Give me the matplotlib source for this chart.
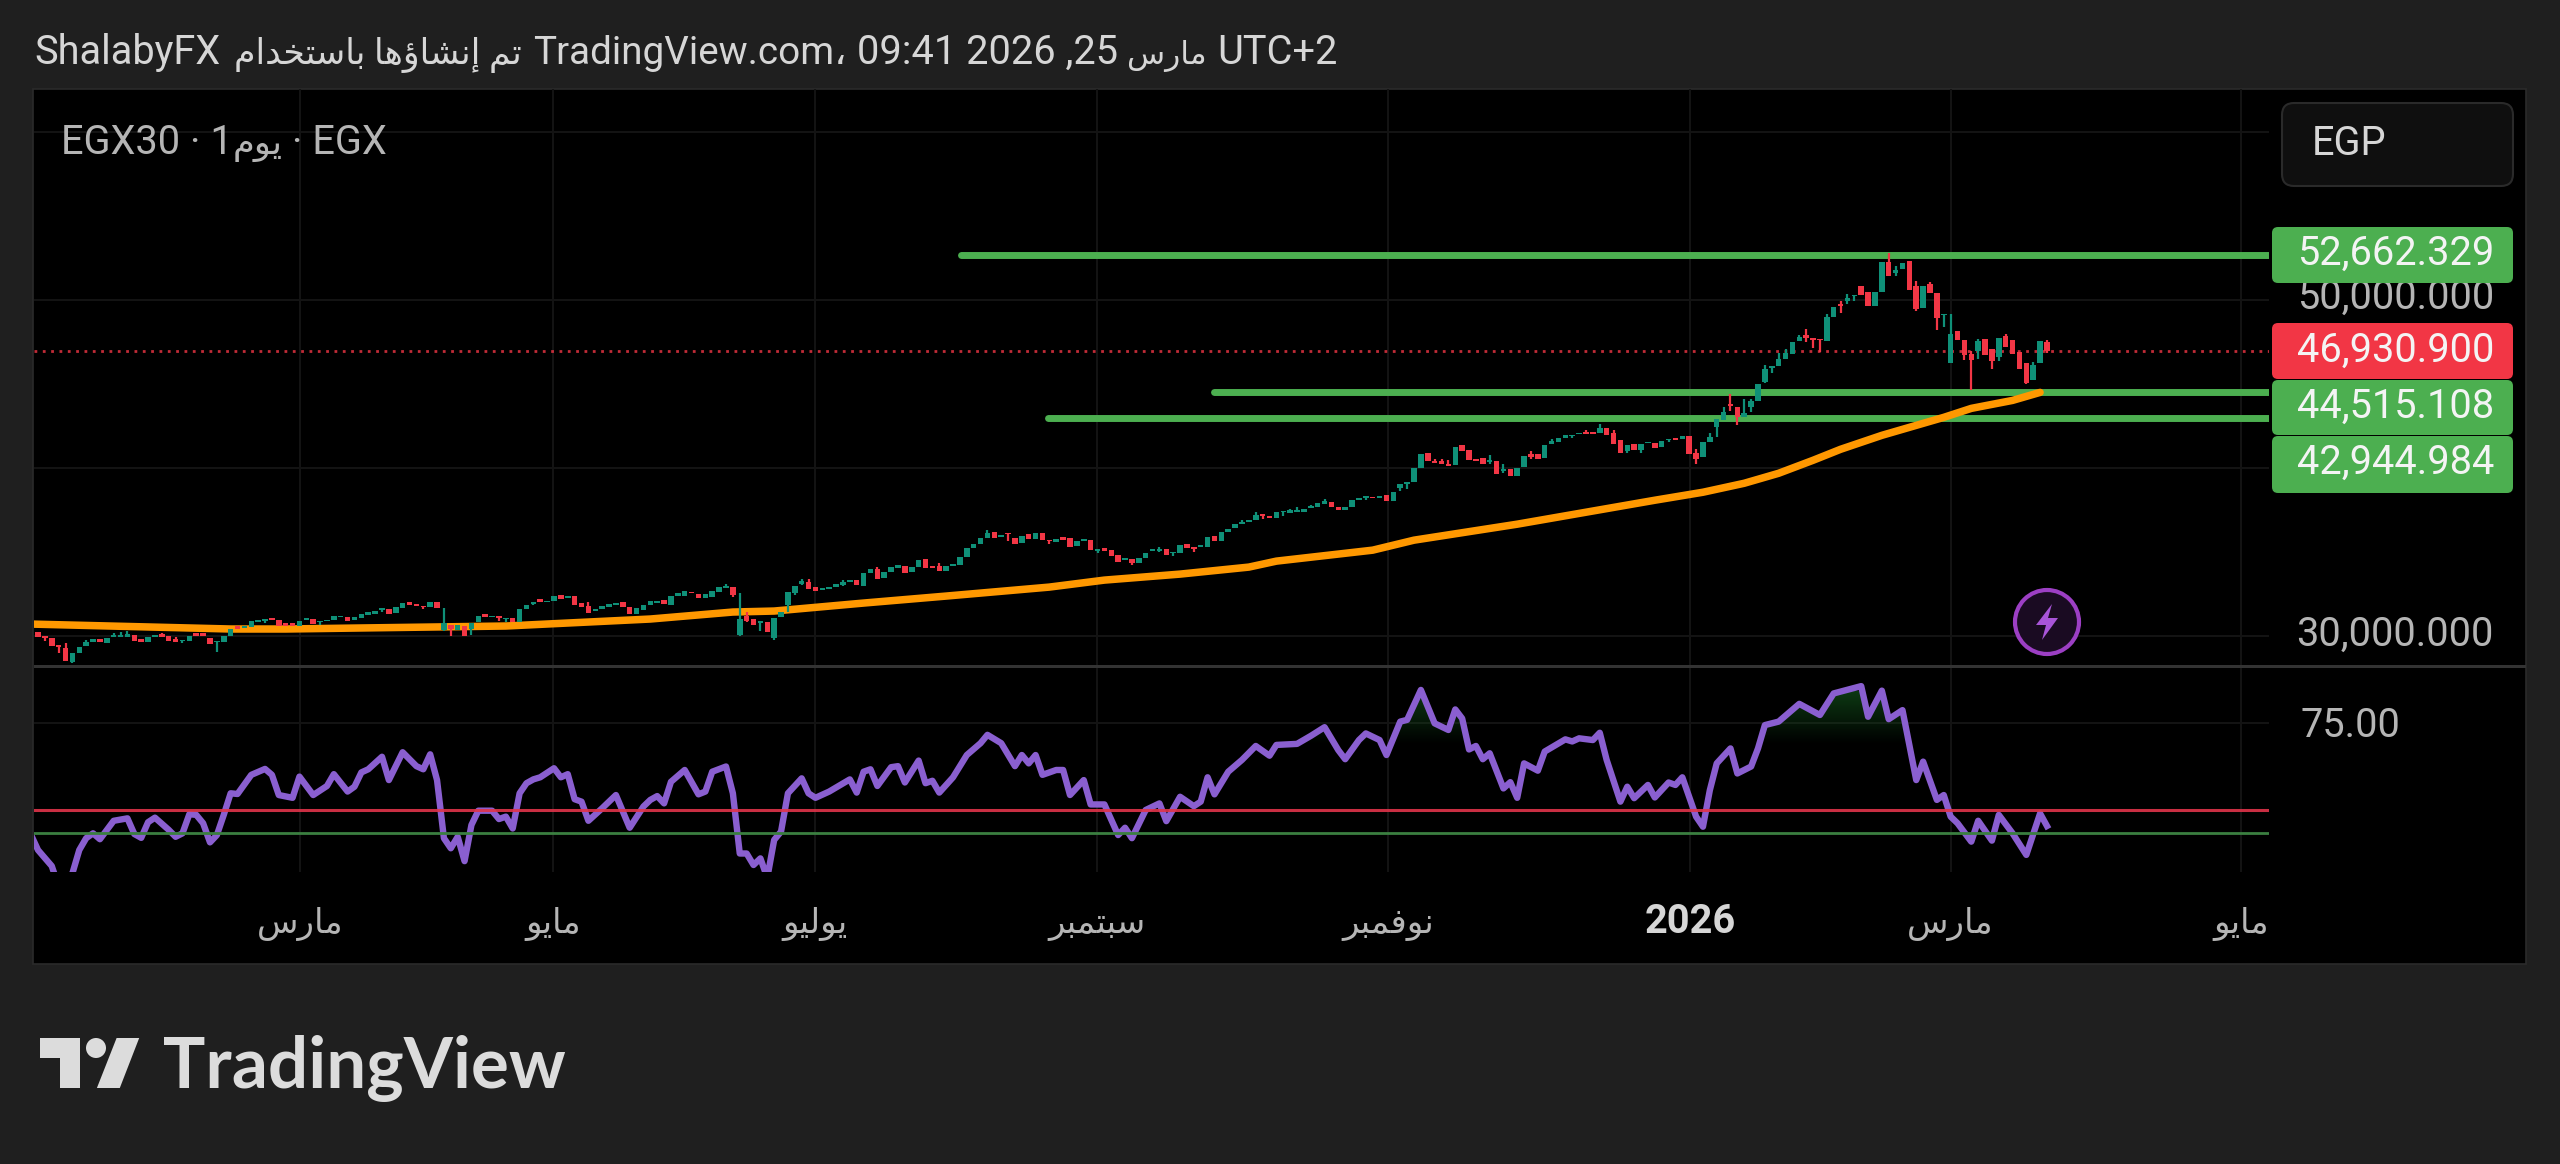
import numpy as np
import matplotlib
matplotlib.use("Agg")
import matplotlib.pyplot as plt
from matplotlib.patches import FancyBboxPatch, Rectangle, Polygon, Circle
from matplotlib.path import Path

# ---------------- data ----------------
opens = [
30220,29980,29860,29440,29310,28470,28990,29400,29620,29820,
29600,29920,29940,29960,30040,29840,29660,29940,30100,30000,
29820,29680,29720,30160,30160,29900,29640,29660,30020,30600,
30460,30550,30830,30910,31090,30970,30750,30750,30610,30930,
31010,30810,30870,30930,31110,31110,30970,31070,31270,31290,
31540,31620,31350,31640,32000,31880,31800,31700,32020,30360,
30650,30360,30610,30400,30810,31290,31110,31190,30990,31070,
30810,31580,31900,32180,32000,32080,32420,32240,32380,31940,
31780,31500,31580,31700,31840,32000,31700,31330,31560,31860,
31980,32140,31860,32400,32400,32610,32490,32280,32340,32610,
32830,32890,30060,31190,31030,30750,30830,29900,31110,31840,
32570,33090,33230,32890,32730,32770,32930,33030,33190,33320,
32990,33760,33960,33425,33800,34060,34160,33780,34120,34570,
34180,34180,33840,34160,34240,34690,35210,35460,35860,36180,
35900,36120,35820,35520,36040,35780,36100,35720,35580,35900,
35840,35330,35660,35740,35050,35250,35110,34790,34510,34610,
34320,34630,35030,35050,35150,34910,34950,35465,35290,35290,
35305,35940,35660,36180,36415,36690,36770,36890,37250,37130,
37010,37365,37345,37385,37385,37625,37680,37880,37980,37660,
37525,37680,38080,38215,38295,38215,38375,38060,38810,39030,
39150,40020,40910,40395,40395,40255,40195,41385,41090,40515,
40590,40335,40415,39800,39960,39525,40040,40850,40850,40590,
41405,41545,41800,41880,42020,42135,42155,42080,42375,42095,
41680,41010,41445,41090,41465,41485,41245,41680,41760,41740,
41880,40890,40650,41540,42435,42830,43820,43620,43030,43620,
43980,45110,45960,46055,46495,46790,47540,47880,47720,47680,
47580,48970,49760,49960,50215,50850,50450,49640,50450,52235,
51580,51840,52295,50850,49520,50950,50395,49085,46255,48135,
47620,46750,46950,47680,47050,46630,47840,47640,46910,46255,
45205,46255,47520]
closes = [
29920,29860,29400,29330,28510,29010,29370,29660,29820,29660,
29860,30060,30080,30120,29700,29660,29960,30060,29920,29700,
29660,29780,30000,29980,29980,29500,29720,30000,30440,30400,
30600,30890,30950,31010,30950,30590,30590,30590,30890,31070,
30710,30910,30970,31170,31190,30890,31110,31290,31430,31460,
31640,31330,31700,31980,31840,31780,31700,32040,31640,30750,
30400,30650,30000,30750,31190,31130,31190,31050,31070,30810,
31620,31860,32020,32040,32100,32380,32220,32400,31820,31700,
31390,31600,31800,31880,31960,31700,31330,31640,31840,32060,
32060,31900,32400,32530,32690,32530,32240,32470,32650,32930,
32990,32440,31030,30910,30670,30870,30220,31050,31410,32590,
32970,33290,32790,32650,32850,32890,33090,33230,33320,33030,
33720,33960,33405,33820,34120,34220,33720,34120,34550,34040,
34040,33840,34180,34280,34710,35230,35500,35860,36100,35860,
36000,36040,35500,35960,35780,36100,35700,35640,35800,35740,
35300,35660,35780,35110,35190,35070,34750,34420,34670,34320,
34650,34910,35150,35170,34790,35010,35405,35250,35170,35385,
35920,35640,36180,36395,36670,36790,36890,37225,37150,37010,
37385,37445,37485,37485,37585,37720,37940,38040,37680,37525,
37660,38115,38215,38315,38195,38315,38060,38575,39030,39170,
40020,40810,40395,40275,40255,40135,41245,40990,40455,40395,
40255,40490,39660,39960,39525,40020,40730,40650,40515,41385,
41600,41800,41980,41980,42080,41995,42020,42375,41980,41445,
40890,41345,41090,41445,41545,41205,41600,41740,41640,41880,
40850,40555,41520,41840,42890,43325,43680,43030,43285,43960,
45010,45900,46075,46495,46850,47485,47820,47720,47620,47620,
48970,49600,49660,50115,50315,50315,49620,50490,52275,51445,
51780,52175,50610,49460,50850,50395,48930,49165,47980,47620,
46690,46430,47580,46690,46355,47720,47185,46750,45900,45045,
46095,47580,46930.9]
wick_highs = {4:29560,7:29760,11:30200,12:30260,13:30280,18:30200,20:29960,59:31680,80:32040,100:33090,
102:32530,103:31440,111:33370,112:33370,117:33320,122:34080,131:34360,138:36300,163:35310,175:36930,
177:37385,182:37585,183:37680,185:37820,187:38175,203:40515,204:40550,205:40455,211:40790,213:40255,
217:40990,220:41700,225:42275,227:42630,229:42275,241:41150,243:42080,245:43620,246:44375,248:44115,
249:44115,251:46100,253:46850,254:47085,256:47920,257:48275,260:49165,262:49920,263:50355,269:52770,
270:52035,273:51105,275:51050,278:49165,281:46985,282:47680,286:47980,290:46295,292:47620}
wick_lows = {1:29720,3:28970,5:28380,21:29600,26:29070,33:30750,41:30650,50:31440,56:31580,59:30300,
60:30000,63:30080,67:30910,68:30830,72:31820,101:32340,102:30000,103:30850,105:30320,107:29760,
109:31440,110:32410,111:33010,117:32970,141:35660,147:35500,154:34950,159:34200,163:34970,165:34750,
168:34970,178:36990,181:37130,193:38115,198:38630,199:38730,211:40255,213:39700,217:40550,223:41780,
231:40890,233:40910,237:41545,241:40255,244:41840,246:43365,247:42570,249:43325,251:45050,252:45640,
257:47485,258:47145,259:46890,262:49205,263:49760,264:49920,270:51445,273:49325,276:48215,277:48415,
280:46395,281:44610,282:46490,284:45860,285:46355,289:45010,292:46850}

ema_idx = [-1,28,36,68,89,101,107,120,132,147,155,166,176,180,194,200,215,235,242,248,253,258,262,268,277,281,287,291]
ema_val = [30710,30416,30416,30594,31010,31426,31485,31960,32376,32910,33326,33683,34100,34455,35108,35702,
           36653,38078,38554,39088,39682,40454,41108,41939,43009,43543,44018,44494]

rsi_idx = [-1,0,2,3,4,5,6,7,8,9,11,13,14,15,16,17,19,20,21,22,23,24,25,26,27,28,29,31,33,34,35,37,38,40,42,43,45,46,47,48,50,51,
           53,55,56,57,58,59,60,61,62,63,64,66,67,68,69,70,71,72,73,75,76,77,78,79,80,82,84,86,88,89,90,91,92,94,96,97,98,
           100,101,102,103,104,105,106,107,108,109,111,112,113,115,118,119,120,121,122,124,125,126,128,129,130,131,133,135,137,138,
           140,142,143,144,145,146,148,149,150,152,153,155,157,158,159,161,163,164,166,168,169,170,171,173,175,177,179,180,183,185,
           187,189,190,192,193,195,196,198,199,201,203,205,206,207,208,209,210,211,213,214,215,216,218,219,222,223,224,226,227,228,
           230,231,232,234,235,237,238,239,241,242,243,244,246,247,249,250,251,253,256,259,261,265,266,268,269,271,273,274,276,277,
           278,279,281,282,284,285,287,289,291,292]
rsi_val = [42.8,38.5,33.9,28.0,30.0,31.8,38.5,41.9,43.3,41.6,46.9,47.6,43.1,42.0,46.5,47.8,44.3,42.3,43.3,48.8,48.6,46.2,40.7,42.8,48.6,54.8,54.6,60.1,61.8,60.1,54.3,53.5,59.6,54.3,56.9,60.3,55.3,56.7,60.8,61.7,65.3,58.6,
           66.6,62.6,61.7,66.0,58.6,41.9,39.0,42.3,35.3,45.7,49.8,49.8,47.4,48.1,44.7,54.8,57.7,58.8,59.4,62.0,59.4,60.3,53.1,52.4,46.9,50.5,54.3,44.9,51.0,52.9,54.0,51.9,58.1,61.5,54.5,55.3,61.0,
           62.5,54.8,37.5,37.5,34.2,36.1,30.5,41.4,43.8,54.8,59.1,54.8,53.5,55.3,58.8,55.0,61.0,61.7,56.9,62.3,62.6,57.9,64.2,57.7,58.4,55.0,59.4,65.8,69.2,71.6,
           69.2,62.6,65.8,63.4,65.8,60.1,61.5,61.5,54.3,58.6,51.6,51.6,42.8,44.9,41.9,50.0,51.9,46.8,53.8,51.1,52.4,59.4,54.5,61.0,64.4,68.4,65.6,68.7,69.0,71.3,
           73.8,67.2,64.6,70.1,72.0,70.1,65.8,75.4,75.9,84.5,74.9,73.0,78.9,76.3,67.4,68.4,64.6,66.3,56.2,58.0,53.5,63.4,61.3,66.8,70.3,69.7,70.6,70.1,72.2,64.4,
           52.4,56.7,53.4,57.2,53.6,57.9,57.2,59.4,48.1,45.2,55.7,63.4,67.7,60.5,62.5,67.7,74.4,75.4,80.5,77.3,83.5,85.6,76.8,84.3,76.1,78.7,58.6,63.9,52.9,54.3,
           48.1,46.2,40.9,46.9,41.2,48.6,43.3,37.1,49.0,45.4]

support_levels = [52662.329, 44515.108, 42944.984]
support_starts = [134.2, 171, 146.8]
last_price = 46930.9
price_ticks = [30000, 40000, 50000, 60000]
rsi_upper = 50.0
rsi_lower = 43.4
rsi_tick = 75.0
time_ticks = [38.1, 74.9, 112.9, 153.9, 196.2, 240.1, 278.0, 320.2]
time_labels = ["مارس", "مايو", "يوليو", "سبتمبر", "نوفمبر", "2026", "مارس", "مايو"]

# ---------------- Arabic shaping (matplotlib does not shape) ----------------
BASE = {'ء':0xFE80,'أ':0xFE83,'ؤ':0xFE85,'إ':0xFE87,'ئ':0xFE89,'ا':0xFE8D,'ب':0xFE8F,'ة':0xFE93,'ت':0xFE95,'ث':0xFE99,
        'ج':0xFE9D,'ح':0xFEA1,'خ':0xFEA5,'د':0xFEA9,'ذ':0xFEAB,'ر':0xFEAD,'ز':0xFEAF,'س':0xFEB1,'ش':0xFEB5,'ص':0xFEB9,
        'ض':0xFEBD,'ط':0xFEC1,'ظ':0xFEC5,'ع':0xFEC9,'غ':0xFECD,'ف':0xFED1,'ق':0xFED5,'ك':0xFED9,'ل':0xFEDD,'م':0xFEE1,
        'ن':0xFEE5,'ه':0xFEE9,'و':0xFEED,'ى':0xFEEF,'ي':0xFEF1}
RIGHT_ONLY = set('أؤإاةدذرزوى')
NON_JOIN = {'ء'}

def ar(text):
    """Logical-order Arabic to visual-order presentation forms."""
    out = []
    for k, ch in enumerate(text):
        if ch not in BASE:
            out.append(ch)
            continue
        prev = text[k - 1] if k else ' '
        nxt = text[k + 1] if k + 1 < len(text) else ' '
        j_prev = prev in BASE and prev not in RIGHT_ONLY and prev not in NON_JOIN and ch not in NON_JOIN
        j_next = nxt in BASE and ch not in RIGHT_ONLY and ch not in NON_JOIN and nxt not in NON_JOIN
        if ch in NON_JOIN:
            form = 0
        elif ch in RIGHT_ONLY:
            form = 1 if j_prev else 0
        elif j_prev and j_next:
            form = 3
        elif j_prev:
            form = 1
        elif j_next:
            form = 2
        else:
            form = 0
        out.append(chr(BASE[ch] + form))
    return ''.join(reversed(out))

def mix(t):
    return ar(t) if any(c in BASE for c in t) else t

# ---------------- layout ----------------
W, H = 2560, 1164
FAM = ['Roboto', 'DejaVu Sans']
BG = '#1f1f1f'
fig = plt.figure(figsize=(W / 100, H / 100), dpi=100, facecolor=BG)

def pax(x0, y0, x1, y1):
    return fig.add_axes([x0 / W, 1 - y1 / H, (x1 - x0) / W, (y1 - y0) / H])

under = fig.add_axes([0, 0, 1, 1], zorder=0)
under.set_xlim(0, W); under.set_ylim(H, 0); under.axis('off')
under.add_patch(Rectangle((33, 89), 2493, 875, fc='#000000', ec='#2b2b2b', lw=1.2))
under.add_patch(Rectangle((34, 664.5), 2492, 3, fc='#333333', ec='none'))

XPIX = 6.88
xlim = ((34 - 38) / XPIX, (2269 - 38) / XPIX)
ax = pax(34, 89, 2269, 664.5); ax.set_zorder(1)
ax_r = pax(34, 668, 2269, 872); ax_r.set_zorder(1)
PY = 59.5
ax.set_xlim(xlim); ax.set_ylim(30000 + (636 - 664.5) * PY, 30000 + (636 - 89) * PY)
rlim = (75 - (872 - 723) / 3.48, 75 - (668 - 723) / 3.48)
ax_r.set_xlim(xlim); ax_r.set_ylim(rlim)
GRID = '#131313'
for a in (ax, ax_r):
    a.set_facecolor('none')
    for s in a.spines.values():
        s.set_visible(False)
    a.set_xticks([]); a.set_yticks([])
    for t in time_ticks:
        a.axvline(t, color=GRID, lw=1.5, zorder=0)

for p in price_ticks:
    ax.axhline(p, color=GRID, lw=1.5, zorder=0)
ax_r.axhline(rsi_tick, color=GRID, lw=1.5, zorder=0)

# candles
UP, DOWN = '#0f9078', '#f23645'
o = np.array(opens, float); c = np.array(closes, float)
idx = np.arange(len(o))
cols = [UP if cc >= oo else DOWN for oo, cc in zip(o, c)]
hi = np.array([wick_highs.get(i, max(o[i], c[i])) for i in idx])
lo = np.array([wick_lows.get(i, min(o[i], c[i])) for i in idx])

ax.axhline(last_price, color='#f23645', lw=2.0, ls=(0, (1, 2)), zorder=1, alpha=.8)
for lv, st in zip(support_levels, support_starts):
    ax.plot([st, xlim[1] + 5], [lv, lv], color='#4caf50', lw=5.0, solid_capstyle='round', zorder=2)
ax.plot(ema_idx, ema_val, color='#ff9800', lw=5.4, solid_capstyle='round', solid_joinstyle='round', zorder=3)
ax.vlines(idx, lo, hi, colors=cols, lw=1.6, zorder=4)
ax.bar(idx, c - o, bottom=o, width=0.8, color=cols, lw=0, zorder=5)

# RSI
rx = np.array(rsi_idx, float); rv = np.array(rsi_val, float)
grad = np.zeros((64, 2, 4))
grad[..., 0] = 0.08; grad[..., 1] = 0.36; grad[..., 2] = 0.12
grad[..., 3] = np.linspace(0.62, 0, 64)[:, None]
im = ax_r.imshow(grad, extent=(xlim[0], xlim[1], 69, 84), aspect='auto', zorder=1, origin='upper')
ax_r.set_xlim(xlim); ax_r.set_ylim(rlim)
poly = ax_r.fill_between(rx, 69, rv, where=rv > 69, interpolate=True, color='none', lw=0)
im.set_clip_path(Path.make_compound_path(*poly.get_paths()), ax_r.transData)
ax_r.plot(rx, rv, color='#8a5fd0', lw=4.6, solid_joinstyle='round', zorder=2)
ax_r.axhline(rsi_upper, color='#e0344a', lw=2.2, zorder=3, alpha=.9)
ax_r.axhline(rsi_lower, color='#3b7f40', lw=2.0, zorder=3)

# time labels
FS = 28.6
FS_AR = 24.5
for t, lab in zip(time_ticks, time_labels):
    is_year = lab == '2026'
    ax_r.text(t, (872 - 933) / (872 - 668), mix(lab), transform=ax_r.get_xaxis_transform(),
              ha='center', va='baseline', color='#d6d6d6' if is_year else '#b5b5b5',
              fontsize=FS if is_year else FS_AR, family=FAM, fontweight='bold' if is_year else 'normal', clip_on=False)

# chrome on top
top = fig.add_axes([0, 0, 1, 1], zorder=2)
top.set_xlim(0, W); top.set_ylim(H, 0); top.axis('off'); top.patch.set_alpha(0)

HC = '#d6d6d6'
top.text(34, 64, "ShalabyFX", color=HC, fontsize=FS, family=FAM, va='baseline', ha='left')
top.text(522, 64, ar("تم إنشاؤها باستخدام"), color=HC, fontsize=25.0, family=FAM, va='baseline', ha='right')
top.text(533, 64, "TradingView.com،", color=HC, fontsize=27.8, family=FAM, va='baseline', ha='left')
top.text(857, 64, "09:41 2026 ,25", color=HC, fontsize=FS, family=FAM, va='baseline', ha='left')
top.text(1207, 64, ar("مارس"), color=HC, fontsize=22.5, family=FAM, va='baseline', ha='right')
top.text(1338, 64, "UTC+2", color=HC, fontsize=FS, family=FAM, va='baseline', ha='right')

LC = '#b5b5b5'
top.text(61, 154, "EGX30 · 1", color=LC, fontsize=FS, family=FAM, va='baseline', ha='left')
top.text(283, 154, ar("يوم"), color=LC, fontsize=25.5, family=FAM, va='baseline', ha='right')
top.text(387, 154, "· EGX", color=LC, fontsize=FS, family=FAM, va='baseline', ha='right')

top.add_patch(FancyBboxPatch((2282, 103), 231, 83, boxstyle='round,pad=0,rounding_size=12',
                             fc='#0f0f0f', ec='#2a2a2a', lw=1.5))
top.text(2312, 155, 'EGP', color='#d6d6d6', fontsize=FS, family=FAM, va='baseline')

def fmt(v):
    return f"{v:,.3f}"

top.text(2494, 309, fmt(50000), color=LC, fontsize=FS, family=FAM, ha='right', va='baseline', zorder=1)
top.text(2494, 646, fmt(30000), color=LC, fontsize=FS, family=FAM, ha='right', va='baseline', zorder=1)
top.text(2300, 737, f"{rsi_tick:.2f}", color=LC, fontsize=FS, family=FAM, ha='left', va='baseline', zorder=1)
boxes = [(support_levels[0], 227, 283, '#4caf50', 265),
         (last_price, 323, 379, '#f23645', 362),
         (support_levels[1], 380, 435, '#4caf50', 418),
         (support_levels[2], 436, 493, '#4caf50', 474)]
for v, y0, y1, col, base in boxes:
    top.add_patch(FancyBboxPatch((2272, y0), 241, y1 - y0, boxstyle='round,pad=0,rounding_size=6',
                                 fc=col, ec='none', zorder=2))
    top.text(2494, base, fmt(v), color='#f4f4f4', fontsize=FS, family=FAM, ha='right', va='baseline', zorder=3)

# lightning badge
top.add_patch(Circle((2047, 622), 32, fc='#1a0b22', ec='#9c3fc4', lw=3, zorder=3))
bolt = np.array([[5, -18], [-11, 3], [-1, 3], [-5, 18], [11, -4], [1, -4]], float) + [2047, 622]
top.add_patch(Polygon(bolt, closed=True, fc='#a855d8', ec='none', zorder=4))

# TradingView logo
LOGO = '#dcdcdc'
top.add_patch(Polygon([(39.5, 1038), (80, 1038), (80, 1088), (60, 1088), (60, 1058), (39.5, 1058)], fc=LOGO, ec='none'))
top.add_patch(Circle((96, 1048), 10, fc=LOGO, ec='none'))
top.add_patch(Polygon([(116.6, 1038), (139.2, 1038), (119.8, 1088), (96.9, 1088)], fc=LOGO, ec='none'))
top.text(163, 1088, 'TradingView', color=LOGO, fontsize=51, family=['Lato', 'DejaVu Sans'],
         fontweight='bold', va='baseline', ha='left')

fig.savefig('out.png', dpi=100, facecolor=BG)
